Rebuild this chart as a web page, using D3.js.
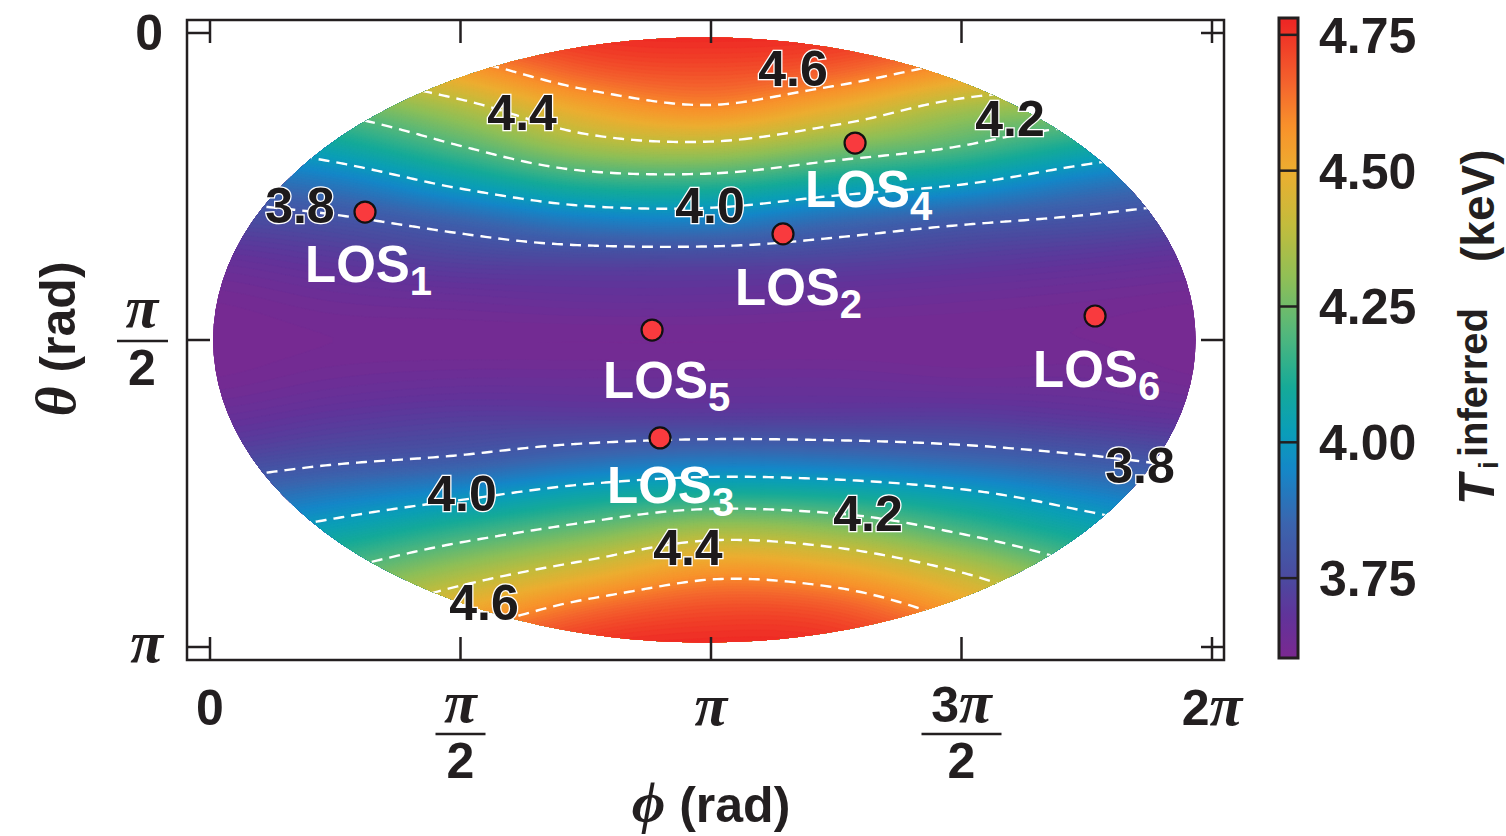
<!DOCTYPE html>
<html>
<head>
<meta charset="utf-8">
<script src="https://cdn.jsdelivr.net/npm/d3@7"></script>
<style>
  body { margin: 0; background: #fff; }
  svg { display: block; font-family: "Liberation Sans", Arial, sans-serif; }
</style>
</head>
<body>
<div class="chart"></div>
<script>
const PI = Math.PI

// sample positions of the temperature map (rad)
const phiGrid = d3.range(9).map(k => k * PI / 4)
const thetaGrid = d3.range(17).map(k => k * PI / 16)

// inferred ion temperature (keV) down each meridian, theta = 0 .. pi
const tPhi0   = [4.45, 4.30, 4.14, 3.98, 3.85, 3.74, 3.66, 3.62, 3.61, 3.62, 3.66, 3.73, 3.85, 3.98, 4.12, 4.27, 4.40]
const tPhi45  = [4.55, 4.40, 4.22, 4.06, 3.90, 3.77, 3.69, 3.64, 3.62, 3.64, 3.69, 3.77, 3.91, 4.05, 4.20, 4.35, 4.48]
const tPhi90  = [4.70, 4.54, 4.35, 4.19, 4.01, 3.83, 3.72, 3.65, 3.62, 3.65, 3.71, 3.80, 3.97, 4.15, 4.33, 4.50, 4.65]
const tPhi135 = [4.76, 4.67, 4.51, 4.33, 4.11, 3.90, 3.73, 3.66, 3.62, 3.65, 3.71, 3.85, 4.05, 4.25, 4.45, 4.64, 4.75]
const tPhi180 = [4.77, 4.70, 4.58, 4.36, 4.12, 3.91, 3.73, 3.66, 3.62, 3.65, 3.71, 3.88, 4.10, 4.35, 4.56, 4.70, 4.77]
const tPhi225 = [4.76, 4.66, 4.48, 4.27, 4.05, 3.85, 3.72, 3.65, 3.62, 3.65, 3.71, 3.87, 4.08, 4.31, 4.52, 4.68, 4.76]
const tPhi270 = [4.70, 4.55, 4.34, 4.19, 3.99, 3.80, 3.70, 3.64, 3.62, 3.64, 3.71, 3.84, 4.02, 4.19, 4.39, 4.55, 4.68]
const tPhi315 = [4.60, 4.45, 4.28, 4.08, 3.90, 3.77, 3.68, 3.63, 3.62, 3.64, 3.69, 3.80, 3.94, 4.07, 4.22, 4.38, 4.50]
const tPhi360 = [4.50, 4.35, 4.18, 4.00, 3.85, 3.74, 3.66, 3.62, 3.61, 3.62, 3.67, 3.76, 3.88, 4.00, 4.13, 4.27, 4.40]

// dashed iso-lines and their labels
const contourLevels = [3.8, 4.0, 4.2, 4.4, 4.6]
const labelText  = ["4.6", "4.4", "4.2", "3.8", "4.0", "3.8", "4.0", "4.2", "4.4", "4.6"]
const labelPhi   = [3.656, 1.957, 5.017, 0.564, 3.135, 5.832, 1.580, 4.126, 2.997, 1.718]
const labelTheta = [0.179, 0.404, 0.435, 0.880, 0.880, 2.211, 2.354, 2.456, 2.630, 2.912]

// lines of sight
const losIndex = ["1", "2", "3", "4", "5", "6"]
const losPhi   = [0.972, 3.593, 2.822, 4.045, 2.772, 5.550]
const losTheta = [0.916, 1.028, 2.072, 0.563, 1.520, 1.448]

// colour bar
const cbarTicks = [3.75, 4.00, 4.25, 4.50, 4.75]
const colorValues = [3.60, 3.68, 3.75, 3.85, 3.95, 4.02, 4.10, 4.20, 4.30, 4.40, 4.50, 4.58, 4.66, 4.78]
const colorList = ["#7b2890", "#61339a", "#4b4a9f", "#3b64ae", "#1487c8", "#0a9eb8", "#15aa98",
                   "#52b77c", "#8ebf57", "#c3bc3c", "#edad30", "#f8922b", "#f4642d", "#ee2424"]

// axis ticks
const phiTicks = [0, PI / 2, PI, 3 * PI / 2, 2 * PI]
const phiTickNum = ["0", "π", "π", "3π", "2π"]
const phiTickDen = [null, "2", null, "2", null]
const thetaTicks = [0, PI / 2, PI]
const thetaTickNum = ["0", "π", "π"]
const thetaTickDen = [null, "2", null]

const width = 1506, height = 836
const frame = {left: 187, top: 20, right: 1224, bottom: 660}

const x = d3.scaleLinear().domain([0, 2 * PI]).range([210, 1212])
const y = d3.scaleLinear().domain([0, PI]).range([33, 647])

const color = d3.scaleLinear().domain(colorValues).range(colorList).interpolate(d3.interpolateRgb).clamp(true)

const svg = d3.select(".chart").append("svg")
    .attr("width", width)
    .attr("height", height)

// ---- field on a fine grid (Catmull-Rom between the samples) ----
const columns = [tPhi0, tPhi45, tPhi90, tPhi135, tPhi180, tPhi225, tPhi270, tPhi315, tPhi360]

function cr(p0, p1, p2, p3, t) {
    return 0.5 * (2 * p1 + (p2 - p0) * t + (2 * p0 - 5 * p1 + 4 * p2 - p3) * t * t + (3 * p1 - p0 - 3 * p2 + p3) * t * t * t)
}
function fieldAt(phi, theta) {
    const fx = phi / (phiGrid[1] - phiGrid[0]), fy = theta / (thetaGrid[1] - thetaGrid[0])
    const i = Math.min(Math.floor(fx), phiGrid.length - 2)
    const j = Math.min(Math.floor(fy), thetaGrid.length - 2)
    const ci = k => columns[Math.max(0, Math.min(phiGrid.length - 1, k))]
    const rj = (c, k) => c[Math.max(0, Math.min(thetaGrid.length - 1, k))]
    const v = [-1, 0, 1, 2].map(d => {
        const c = ci(i + d)
        return cr(rj(c, j - 1), rj(c, j), rj(c, j + 1), rj(c, j + 2), fy - j)
    })
    return cr(v[0], v[1], v[2], v[3], fx - i)
}

const nx = 252, ny = 128
const values = new Array(nx * ny)
for (let j = 0; j < ny; j++)
    for (let i = 0; i < nx; i++)
        values[j * nx + i] = fieldAt(i / (nx - 1) * 2 * PI, j / (ny - 1) * PI)

const toScreen = d3.geoTransform({
    point: function(px, py) {
        this.stream.point(x((px - 0.5) / (nx - 1) * 2 * PI), y((py - 0.5) / (ny - 1) * PI))
    }
})
const path = d3.geoPath(toScreen)

// elliptical map area
const ell = {phi: 3.10, theta: PI / 2, rPhi: 3.08, rTheta: 1.548}
const defs = svg.append("defs")
defs.append("clipPath").attr("id", "map")
    .append("ellipse")
    .attr("cx", x(ell.phi))
    .attr("cy", y(ell.theta))
    .attr("rx", x(ell.rPhi) - x(0))
    .attr("ry", y(ell.rTheta) - y(0))

const map = svg.append("g").attr("clip-path", "url(#map)")

const bandLevels = d3.range(3.57, 4.80, 0.01)
const bands = d3.contours().size([nx, ny]).thresholds(bandLevels)(values)
map.selectAll("path.band")
    .data(bands)
    .enter().append("path")
    .attr("class", "band")
    .attr("d", path)
    .attr("fill", d => color(d.value + 0.005))
    .attr("stroke", d => color(d.value + 0.005))
    .attr("stroke-width", 0.6)

const isos = d3.contours().size([nx, ny]).thresholds(contourLevels)(values)
map.selectAll("path.iso")
    .data(isos)
    .enter().append("path")
    .attr("class", "iso")
    .attr("d", path)
    .attr("fill", "none")
    .attr("stroke", "#fff")
    .attr("stroke-width", 2.4)
    .attr("stroke-dasharray", "11,7")

// ---- frame and ticks ----
svg.append("rect")
    .attr("x", frame.left).attr("y", frame.top)
    .attr("width", frame.right - frame.left).attr("height", frame.bottom - frame.top)
    .attr("fill", "none").attr("stroke", "#231f20").attr("stroke-width", 2.5)

const tickLen = 23
const tickG = svg.append("g").attr("stroke", "#231f20").attr("stroke-width", 2.5)
phiTicks.forEach(v => {
    tickG.append("line").attr("x1", x(v)).attr("x2", x(v)).attr("y1", frame.bottom).attr("y2", frame.bottom - tickLen)
    tickG.append("line").attr("x1", x(v)).attr("x2", x(v)).attr("y1", frame.top).attr("y2", frame.top + tickLen)
})
thetaTicks.forEach(v => {
    tickG.append("line").attr("y1", y(v)).attr("y2", y(v)).attr("x1", frame.left).attr("x2", frame.left + tickLen)
    tickG.append("line").attr("y1", y(v)).attr("y2", y(v)).attr("x1", frame.right).attr("x2", frame.right - tickLen)
})

// text with bold italic serif pi
const greek = "'Liberation Serif', 'Times New Roman', serif"
function piText(sel, str) {
    str.split(/(π)/).filter(s => s.length).forEach(s => {
        if (s === "π") sel.append("tspan").attr("font-family", greek)
            .attr("font-style", "italic").attr("font-size", 60).text(s)
        else sel.append("tspan").text(s)
    })
}

const tickFont = 50
phiTicks.forEach((v, i) => {
    const g = svg.append("g").attr("font-weight", "bold").attr("font-size", tickFont).attr("fill", "#231f20")
    const num = g.append("text").attr("x", x(v)).attr("y", phiTickDen[i] ? 722 : 725).attr("text-anchor", "middle")
    piText(num, phiTickNum[i])
    if (phiTickDen[i]) {
        const w = phiTickNum[i].length > 1 ? 80 : 50
        g.append("line").attr("x1", x(v) - w / 2).attr("x2", x(v) + w / 2).attr("y1", 734).attr("y2", 734)
            .attr("stroke", "#231f20").attr("stroke-width", 2.5)
        g.append("text").attr("x", x(v)).attr("y", 778).attr("text-anchor", "middle").text(phiTickDen[i])
    }
})

thetaTicks.forEach((v, i) => {
    const g = svg.append("g").attr("font-weight", "bold").attr("font-size", tickFont).attr("fill", "#231f20")
    if (thetaTickDen[i]) {
        const num = g.append("text").attr("x", 142).attr("y", y(v) - 13).attr("text-anchor", "middle")
        piText(num, thetaTickNum[i])
        g.append("line").attr("x1", 117).attr("x2", 168).attr("y1", y(v) + 1).attr("y2", y(v) + 1)
            .attr("stroke", "#231f20").attr("stroke-width", 2.5)
        g.append("text").attr("x", 142).attr("y", y(v) + 45).attr("text-anchor", "middle").text(thetaTickDen[i])
    } else {
        const t = g.append("text").attr("x", 163).attr("y", y(v) + (thetaTickNum[i] === "π" ? 15 : 17)).attr("text-anchor", "end")
        piText(t, thetaTickNum[i])
    }
})

// axis titles
const xTitle = svg.append("text")
    .attr("x", 711).attr("y", 822).attr("text-anchor", "middle")
    .attr("font-weight", "bold").attr("font-size", 50).attr("fill", "#231f20")
xTitle.append("tspan").attr("font-family", greek).attr("font-style", "italic").attr("font-size", 58).text("ϕ")
xTitle.append("tspan").text(" (rad)")

const yTitle = svg.append("text")
    .attr("transform", "translate(75,339) rotate(-90)").attr("text-anchor", "middle")
    .attr("font-weight", "bold").attr("font-size", 50).attr("fill", "#231f20")
yTitle.append("tspan").attr("font-family", greek).attr("font-style", "italic").attr("font-size", 58).text("θ")
yTitle.append("tspan").text(" (rad)")

// ---- contour labels ----
svg.append("g").selectAll("text")
    .data(labelText)
    .enter().append("text")
    .attr("x", (d, i) => x(labelPhi[i]))
    .attr("y", (d, i) => y(labelTheta[i]))
    .attr("dy", "0.36em")
    .attr("text-anchor", "middle")
    .attr("font-weight", "bold")
    .attr("font-size", 50)
    .attr("fill", "#1d1a1b")
    .attr("stroke", "#fff")
    .attr("stroke-width", 2.5)
    .attr("paint-order", "stroke")
    .text(d => d)

// ---- lines of sight ----
const losOffset = [[-60, 70], [-48, 71], [-53, 65], [-50, 64], [-49, 68], [-62, 71]]
const los = svg.append("g").selectAll("g")
    .data(losIndex)
    .enter().append("g")
    .attr("transform", (d, i) => "translate(" + x(losPhi[i]) + "," + y(losTheta[i]) + ")")

los.append("circle")
    .attr("r", 10.5)
    .attr("fill", "#f93a3e")
    .attr("stroke", "#111")
    .attr("stroke-width", 2.2)

const losText = los.append("text")
    .attr("x", (d, i) => losOffset[i][0])
    .attr("y", (d, i) => losOffset[i][1])
    .attr("font-weight", "bold")
    .attr("font-size", 51)
    .attr("fill", "#fff")
losText.append("tspan").text("LOS")
losText.append("tspan").attr("font-size", 40).attr("dy", 13).text(d => d)

// ---- colour bar ----
const cbar = {x: 1279, w: 19}
const cy = d3.scaleLinear().domain([3.603, 4.781]).range([658, 18])
const grad = defs.append("linearGradient").attr("id", "cbar")
    .attr("x1", 0).attr("y1", 1).attr("x2", 0).attr("y2", 0)
grad.selectAll("stop")
    .data(d3.range(3.603, 4.782, 0.01))
    .enter().append("stop")
    .attr("offset", d => (d - 3.603) / (4.781 - 3.603))
    .attr("stop-color", d => color(d))

svg.append("rect")
    .attr("x", cbar.x).attr("y", cy(4.781))
    .attr("width", cbar.w).attr("height", cy(3.603) - cy(4.781))
    .attr("fill", "url(#cbar)")
    .attr("stroke", "#231f20").attr("stroke-width", 3)

svg.append("g").selectAll("line")
    .data(cbarTicks)
    .enter().append("line")
    .attr("x1", cbar.x).attr("x2", cbar.x + cbar.w)
    .attr("y1", d => cy(d)).attr("y2", d => cy(d))
    .attr("stroke", "#231f20").attr("stroke-width", 2.5)

svg.append("g").selectAll("text")
    .data(cbarTicks)
    .enter().append("text")
    .attr("x", 1319)
    .attr("y", d => cy(d))
    .attr("dy", "0.36em")
    .attr("font-weight", "bold")
    .attr("font-size", 50)
    .attr("fill", "#231f20")
    .text(d3.format(".2f"))

// colour bar title, rotated (reads bottom to top)
const ct = svg.append("g")
    .attr("transform", "translate(1494,505) rotate(-90)")
    .attr("font-weight", "bold")
    .attr("fill", "#231f20")
ct.append("text").attr("x", 0).attr("y", 0).attr("font-size", 50).attr("font-style", "italic").text("T")
ct.append("text").attr("x", 36).attr("y", 4).attr("font-size", 28).text("i")
ct.append("text").attr("x", 48).attr("y", -7).attr("font-size", 40).text("inferred")
ct.append("text").attr("x", 243).attr("y", 0).attr("font-size", 46).text("(keV)")
</script>
</body>
</html>
